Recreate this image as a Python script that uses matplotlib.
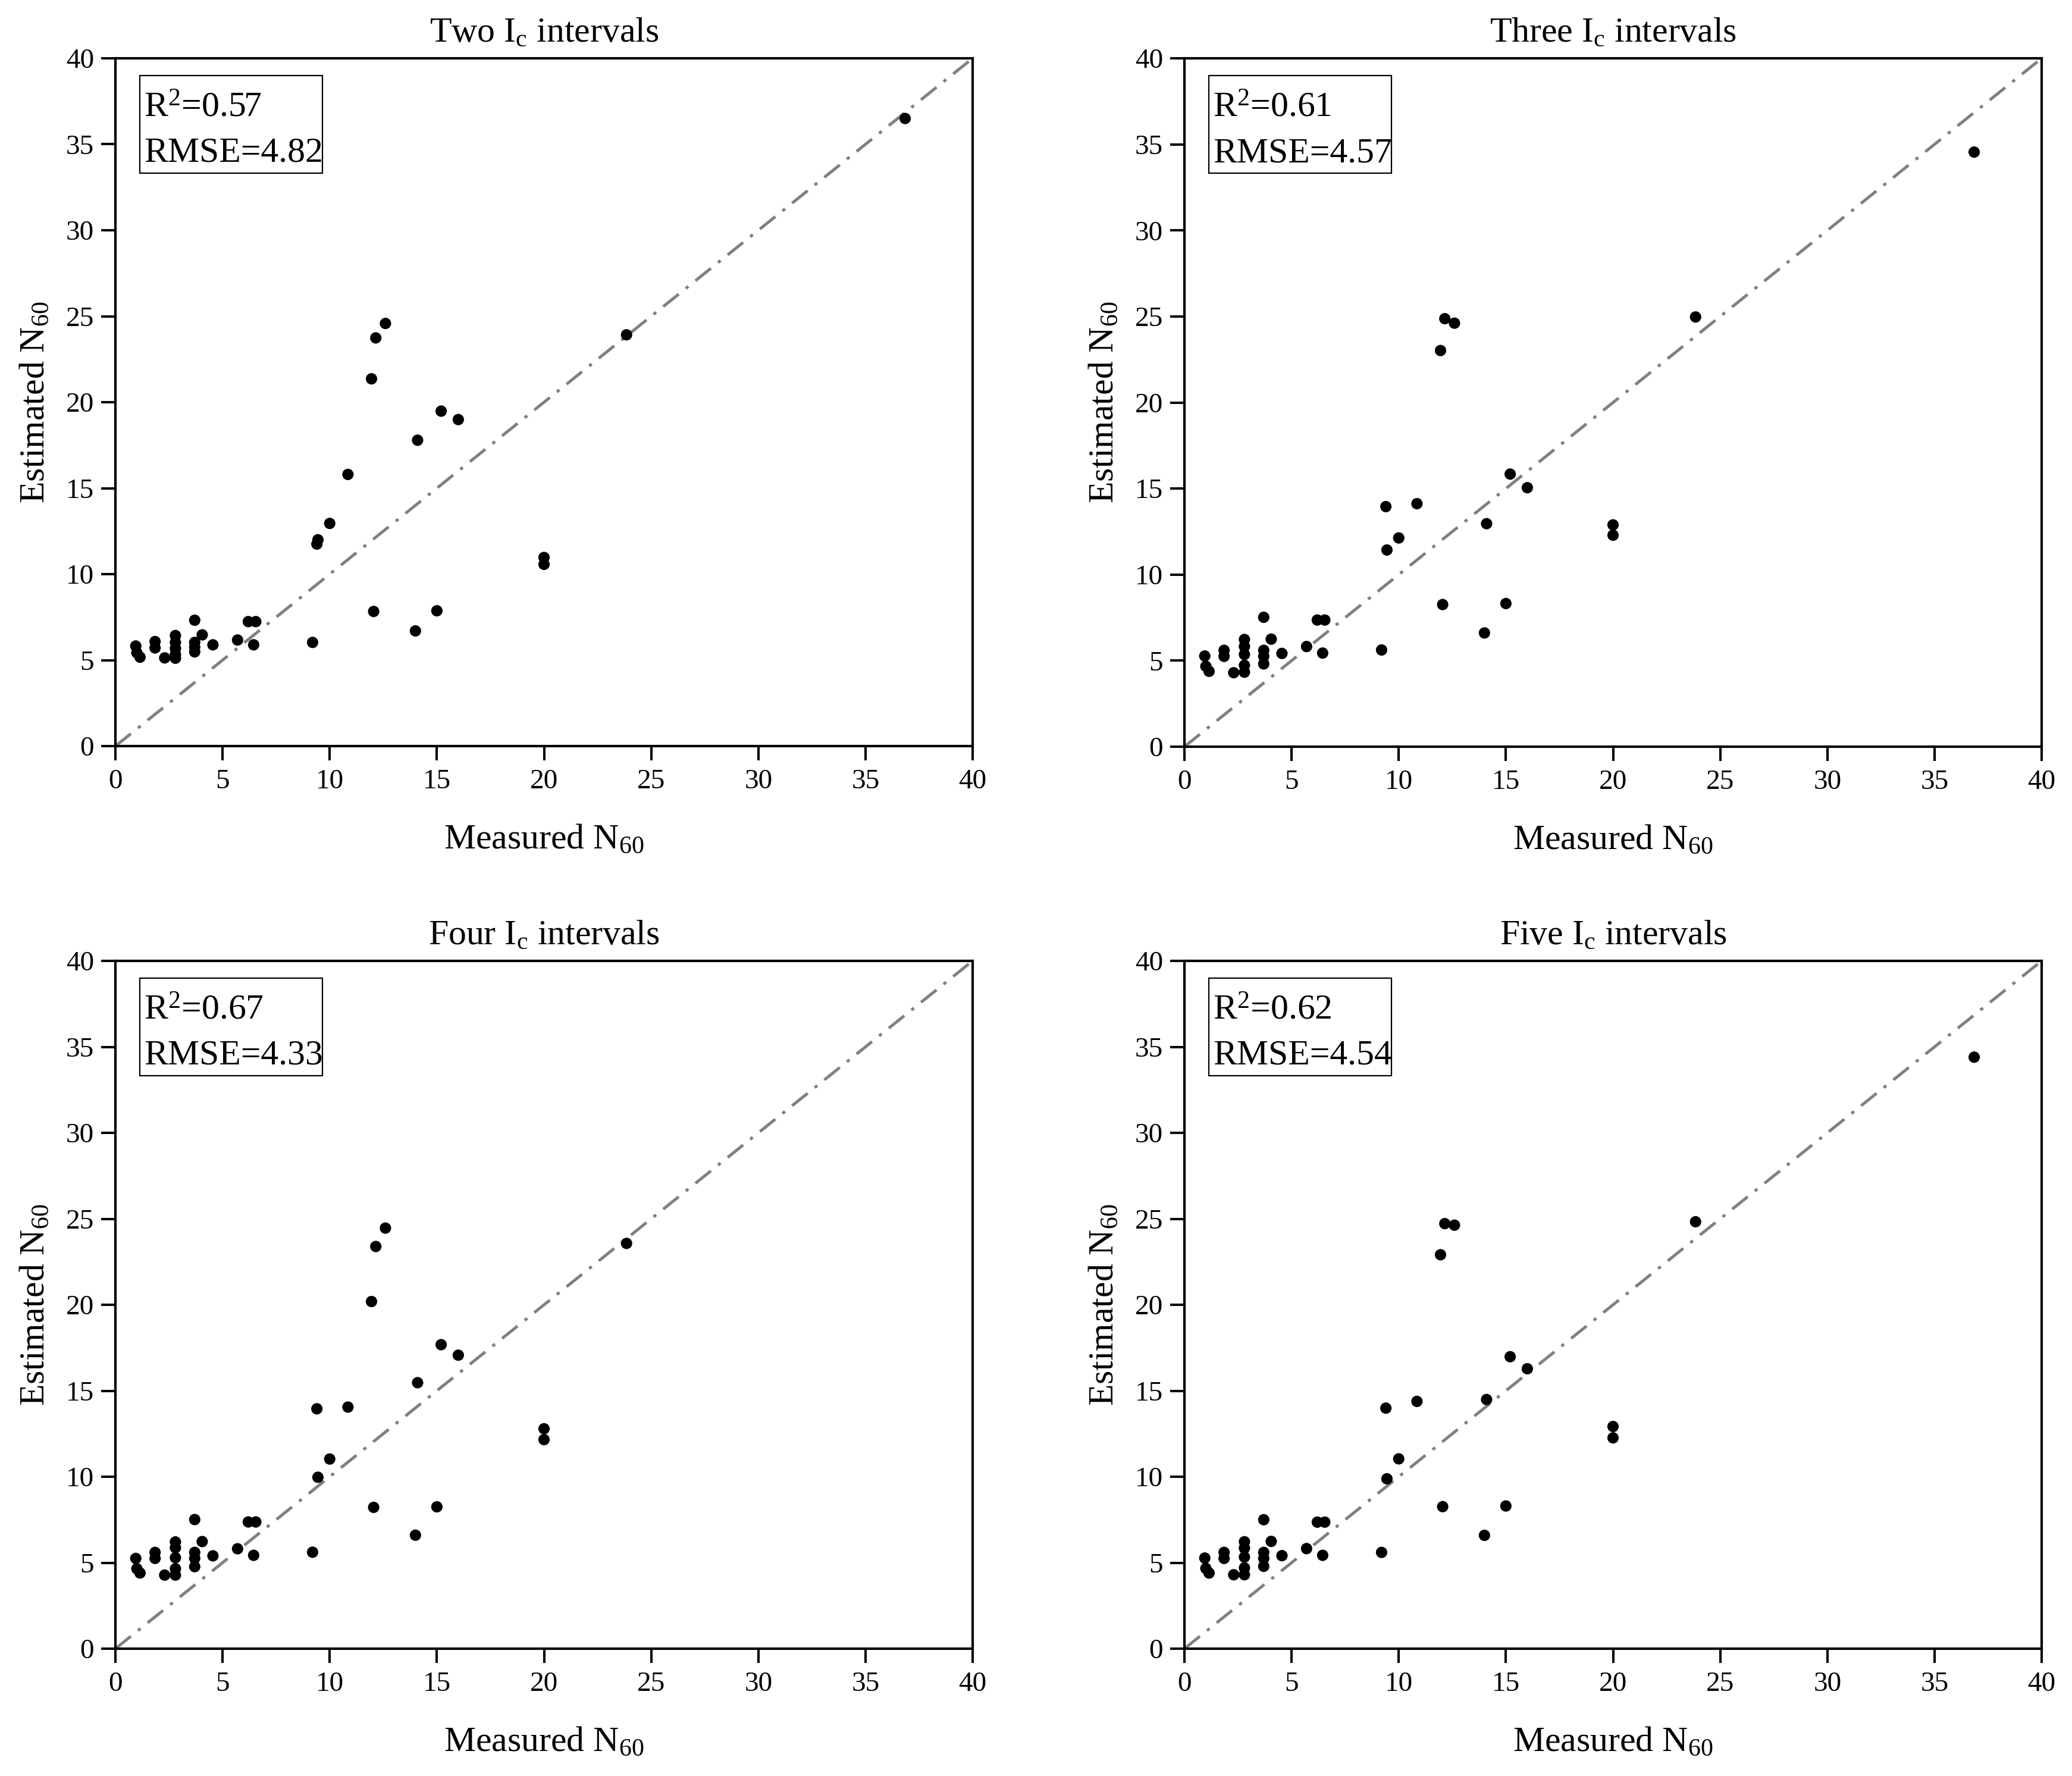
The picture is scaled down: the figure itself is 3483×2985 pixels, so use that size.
import numpy as np
import matplotlib
matplotlib.use('Agg')
import matplotlib.pyplot as plt
from matplotlib.patches import Rectangle

plt.rcParams['font.family'] = ['Liberation Serif', 'DejaVu Serif']
plt.rcParams['mathtext.fontset'] = 'custom'
plt.rcParams['mathtext.rm'] = 'Liberation Serif'
plt.rcParams['mathtext.it'] = 'Liberation Serif:italic'
plt.rcParams['mathtext.bf'] = 'Liberation Serif:bold'
plt.rcParams['lines.scale_dashes'] = False

# ---------------- data ----------------
measured = [0.95, 1.0, 1.15, 1.85, 1.85, 2.3, 2.8, 2.8, 2.8, 2.8, 2.8,
            3.7, 3.7, 3.7, 3.7, 4.05, 4.55, 5.7, 6.2, 6.55, 6.45, 9.2,
            9.4, 9.45, 10.0, 10.85, 11.95, 12.05, 12.15, 12.6, 14.0, 14.1,
            15.0, 15.2, 16.0, 20.0, 20.0, 23.85, 36.85]

est_two = [5.82, 5.43, 5.17, 6.08, 5.71, 5.13, 6.43, 6.03, 5.68, 5.34, 5.11,
           7.32, 6.03, 5.75, 5.48, 6.47, 5.89, 6.17, 7.24, 7.24, 5.89, 6.03,
           11.75, 12.0, 12.95, 15.80, 21.36, 7.83, 23.74, 24.58, 6.70, 17.79,
           7.87, 19.48, 18.99, 10.97, 10.57, 23.92, 36.5]

est_three = [5.27, 4.67, 4.38, 5.6, 5.25, 4.30, 6.23, 5.82, 5.36, 4.73, 4.33,
             7.52, 5.6, 5.25, 4.81, 6.25, 5.42, 5.82, 7.36, 7.36, 5.44, 5.62,
             13.95, 11.43, 12.13, 14.12, 23.02, 8.26, 24.87, 24.61, 6.61, 12.96,
             8.32, 15.84, 15.05, 12.89, 12.29, 24.97, 34.55]

est_four = [5.25, 4.65, 4.40, 5.6, 5.25, 4.28, 6.21, 5.87, 5.29, 4.65, 4.28,
            7.51, 5.6, 5.25, 4.77, 6.23, 5.40, 5.81, 7.37, 7.37, 5.43, 5.61,
            13.95, 9.97, 11.03, 14.05, 20.19, 8.22, 23.39, 24.46, 6.60, 15.47,
            8.25, 17.68, 17.07, 12.79, 12.16, 23.57, np.nan]

est_five = [5.27, 4.67, 4.40, 5.6, 5.25, 4.30, 6.22, 5.85, 5.33, 4.70, 4.30,
            7.50, 5.6, 5.25, 4.79, 6.24, 5.41, 5.82, 7.36, 7.36, 5.43, 5.60,
            13.99, 9.88, 11.04, 14.38, 22.91, 8.26, 24.72, 24.63, 6.59, 14.49,
            8.30, 16.98, 16.28, 12.92, 12.26, 24.83, 34.4]

titles = [r"Two I$_\mathrm{c}$ intervals", r"Three I$_\mathrm{c}$ intervals",
          r"Four I$_\mathrm{c}$ intervals", r"Five I$_\mathrm{c}$ intervals"]
r2_values = [0.57, 0.61, 0.67, 0.62]
rmse_values = [4.82, 4.57, 4.33, 4.54]
tick_values = [0, 5, 10, 15, 20, 25, 30, 35, 40]
ref_line = [0, 40]

estimates = [est_two, est_three, est_four, est_five]

# ---------------- layout ----------------
W, H = 3483, 2985
fig = plt.figure(figsize=(W / 100, H / 100), dpi=100)
fig.patch.set_facecolor('white')

# axes boxes in pixels: left, top, right, bottom
boxes = [(194, 98, 1635, 1254), (1991, 98, 3432, 1255),
         (194, 1615, 1635, 2771), (1991, 1615, 3432, 2771)]

for i, (l, t, r, b) in enumerate(boxes):
    ax = fig.add_axes([l / W, 1 - b / H, (r - l) / W, (b - t) / H])
    ax.set_xlim(0, 40)
    ax.set_ylim(0, 40)

    ax.plot(ref_line, ref_line, color='#808080', lw=3.6,
            dashes=(24, 11, 4, 11), zorder=2)
    ax.scatter(measured, estimates[i], s=190, color='black',
               edgecolors='none', zorder=3)

    ax.set_xticks(tick_values)
    ax.set_yticks(tick_values)
    ax.tick_params(axis='both', direction='out', length=17, width=2.9,
                   labelsize=34, top=False, right=False)
    ax.tick_params(axis='x', pad=11)
    ax.tick_params(axis='y', pad=9)
    for sp in ax.spines.values():
        sp.set_linewidth(3.0)

    ax.set_title(titles[i], fontsize=43, pad=20)
    ax.set_xlabel(r"Measured N$_{60}$", fontsize=43)
    ax.set_ylabel(r"Estimated N$_{60}$", fontsize=43)
    ax.xaxis.set_label_coords(0.5, -0.113)
    ax.yaxis.set_label_coords(-0.074, 0.5)

    # statistics box
    ax.add_patch(Rectangle((0.0285, 0.833), 0.213, 0.1419,
                           transform=ax.transAxes, facecolor='white',
                           edgecolor='black', linewidth=1.6, zorder=4))
    ax.text(0.0333, 0.9152, "R$^2$=%.2f" % r2_values[i],
            transform=ax.transAxes, ha='left', va='baseline', fontsize=43,
            zorder=5)
    ax.text(0.0333, 0.8495, "RMSE=%.2f" % rmse_values[i],
            transform=ax.transAxes, ha='left', va='baseline', fontsize=43,
            zorder=5)

fig.savefig('out.png', dpi=100, facecolor='white')
